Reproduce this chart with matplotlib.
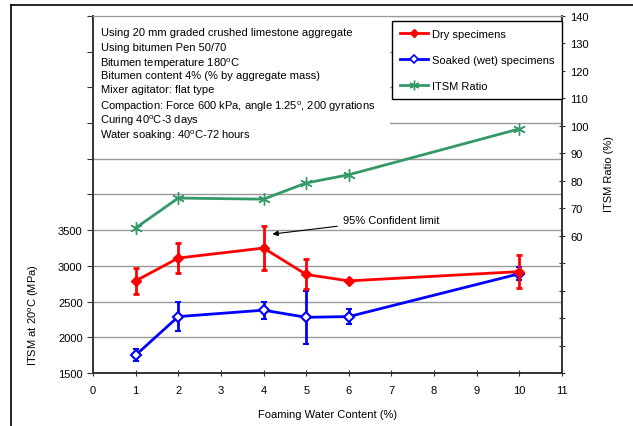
import numpy as np
import matplotlib
matplotlib.use('Agg')
import matplotlib.pyplot as plt
from matplotlib.patches import Rectangle
from matplotlib.lines import Line2D
from matplotlib.ticker import FuncFormatter, MultipleLocator

plt.rcParams['font.family'] = ['Liberation Sans', 'DejaVu Sans']
plt.rcParams['font.size'] = 8
plt.rcParams['mathtext.fontset'] = 'custom'
plt.rcParams['mathtext.rm'] = 'Liberation Sans'
plt.rcParams['mathtext.it'] = 'Liberation Sans:italic'

# Data
water = [1, 2, 4, 5, 6, 10]
dry = [2790, 3110, 3250, 2880, 2790, 2920]
dry_err = [180, 205, 305, 210, 0, 230]
wet = [1750, 2290, 2380, 2280, 2290, 2890]
wet_err = [88, 200, 120, 375, 110, 90]
ratio = [62.8, 73.7, 73.3, 79.2, 82.2, 98.9]

notes = ["Using 20 mm graded crushed limestone aggregate",
         "Using bitumen Pen 50/70",
         "Bitumen temperature 180$^{\\rm o}$C",
         "Bitumen content 4% (% by aggregate mass)",
         "Mixer agitator: flat type",
         "Compaction: Force 600 kPa, angle 1.25$^{\\rm o}$, 200 gyrations",
         "Curing 40$^{\\rm o}$C-3 days",
         "Water soaking: 40$^{\\rm o}$C-72 hours"]

fig = plt.figure(figsize=(6.33, 4.27), dpi=100)
ax = fig.add_axes([93/633, 1 - 374/427, 469/633, 357/427])
ax2 = ax.twinx()

# frame lines of the original page
fig.add_artist(Line2D([11/633, 1], [1 - 6/427, 1 - 6/427], color='black', lw=1.2))
fig.add_artist(Line2D([11/633, 11/633], [0, 1 - 6/427], color='black', lw=1.2))

ax.set_xlim(0, 11)
ax.set_ylim(1500, 6500)
ax.xaxis.set_major_locator(MultipleLocator(1))
ax.yaxis.set_major_locator(MultipleLocator(500))
ax.yaxis.set_major_formatter(FuncFormatter(lambda v, p: '%d' % v if v <= 3500 else ''))
ax.grid(axis='y', color='#999999', lw=1)
ax.set_axisbelow(True)

ax2.set_ylim(10, 140)
ax2.yaxis.set_major_locator(MultipleLocator(10))
ax2.yaxis.set_major_formatter(FuncFormatter(lambda v, p: '%d' % v if v >= 60 else ''))

for a in (ax, ax2):
    a.spines['top'].set_color('#999999')
    for s in ('left', 'right', 'bottom'):
        a.spines[s].set_color('#333333')
        a.spines[s].set_linewidth(1.2)
ax.tick_params(axis='x', direction='inout', length=5, colors='#333333', labelcolor='black', pad=6)
ax.tick_params(axis='y', direction='out', length=4, colors='#333333', labelcolor='black')
ax2.tick_params(axis='y', direction='inout', length=5, colors='#333333', labelcolor='black')

# white box behind the notes
ax.add_patch(Rectangle((0, 0.627), 0.633, 0.373, transform=ax.transAxes,
                       facecolor='white', edgecolor='none', zorder=1))
note_y = [36, 51, 65, 79, 93, 108, 122, 137]
for line, py in zip(notes, note_y):
    # mathtext lines sit a little high and to the right, nudge them
    dx, dy = (1, 2) if '$' in line else (0, 0)
    fig.text((101 - dx)/633, 1 - (py + dy)/427, line, ha='left', va='baseline', zorder=5)

ax.errorbar(water, wet, yerr=wet_err, color='#0000ff', lw=2, marker='D', ms=5,
            mfc='white', mec='#0000ff', mew=1.5, capsize=2, capthick=2, elinewidth=2, zorder=3)
ax.errorbar(water, dry, yerr=dry_err, color='#ff0000', lw=2, marker='D', ms=5,
            mfc='#ff0000', mec='#ff0000', capsize=2, capthick=2, elinewidth=2, zorder=4)
ax2.plot(water, ratio, color='#339966', lw=2, marker=(6, 2, 0), ms=9, mew=1)

ax.annotate("95% Confident limit", xy=(4.21, 3446), xytext=(5.86, 3646),
            ha='left', va='center',
            arrowprops=dict(arrowstyle='-|>', color='black', lw=0.8, mutation_scale=8,
                            shrinkA=2, shrinkB=0))

ax.set_xlabel("Foaming Water Content (%)", labelpad=10)
ax.set_ylabel("ITSM at 20$^{\\rm o}$C (MPa)")
ax.yaxis.set_label_coords(-0.111, 0.165)
ax2.set_ylabel("ITSM Ratio (%)")
ax2.yaxis.set_label_coords(1.09, 0.56)

handles = [Line2D([], [], color='#ff0000', lw=2, marker='D', ms=4, mfc='#ff0000'),
           Line2D([], [], color='#0000ff', lw=2, marker='D', ms=4, mfc='white', mew=1.2),
           Line2D([], [], color='#339966', lw=2, marker=(6, 2, 0), ms=7)]
leg = ax2.legend(handles, ["Dry specimens", "Soaked (wet) specimens", "ITSM Ratio"],
                 loc='upper right', bbox_to_anchor=(1.0, 0.985), borderaxespad=0,
                 labelspacing=1.45, handlelength=2.6, handletextpad=0.3,
                 fancybox=False, framealpha=1, edgecolor='black', borderpad=0.7)
leg.get_frame().set_linewidth(1)

fig.savefig('out.png', dpi=100)
